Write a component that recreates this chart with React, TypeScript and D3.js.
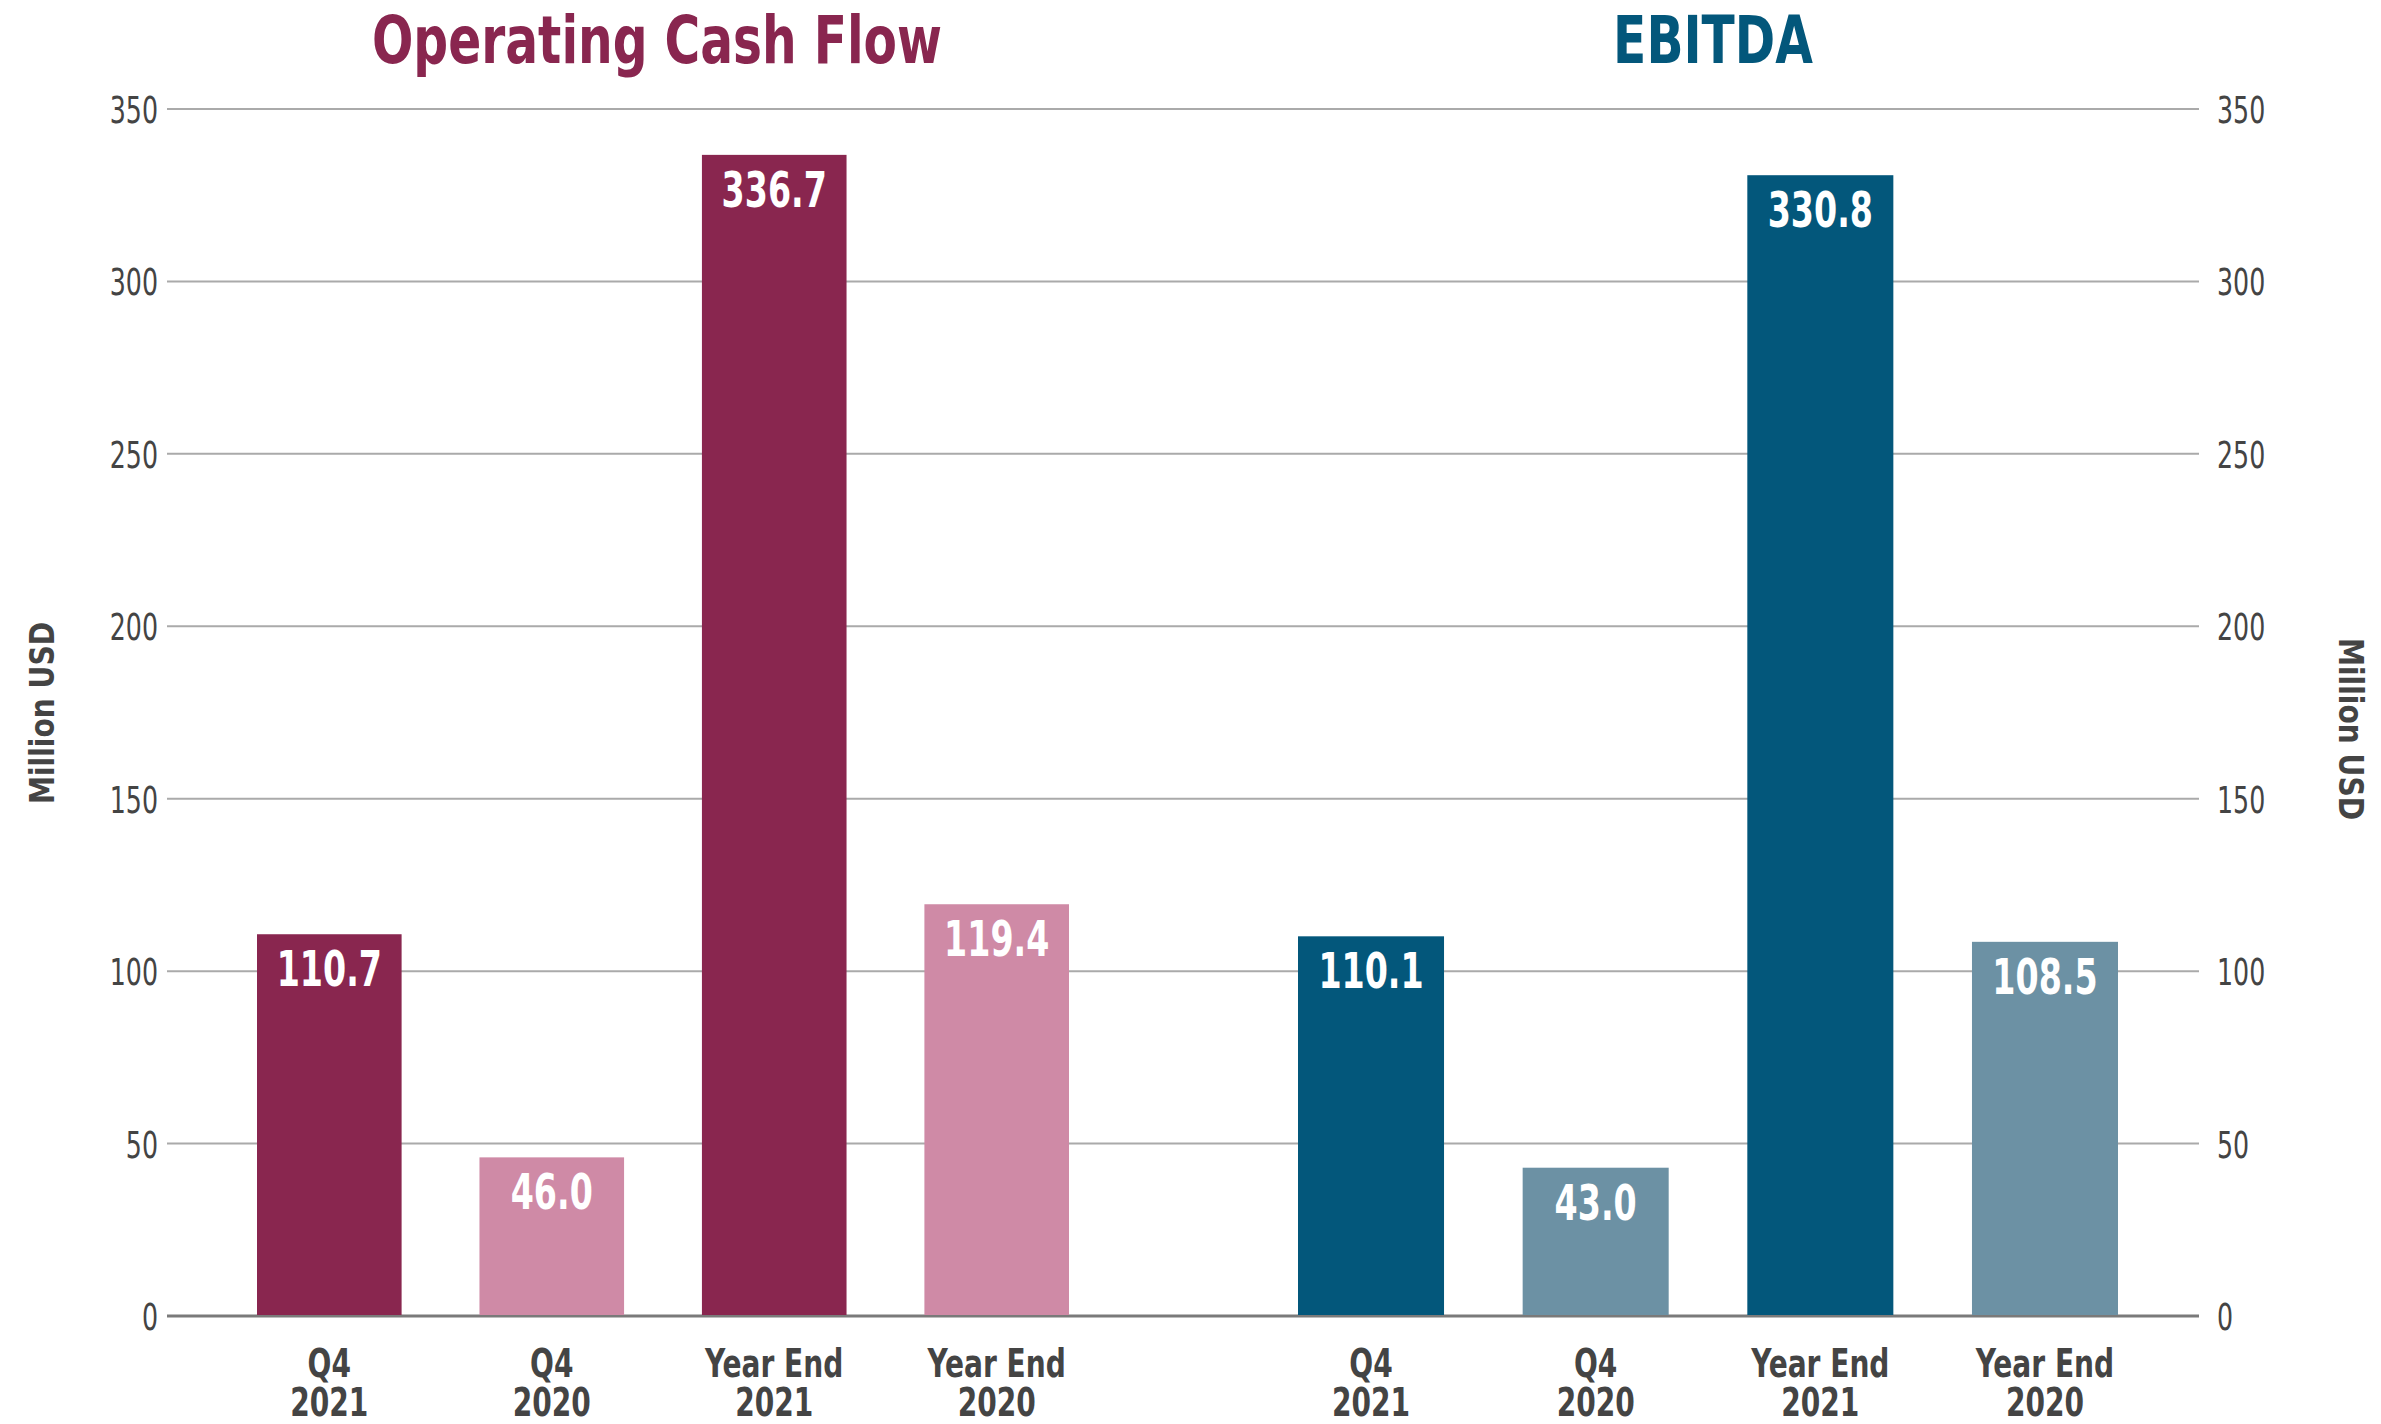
import { useEffect } from 'react';
import * as d3 from 'd3';

const categories = ['Q4|2021', 'Q4|2020', 'Year End|2021', 'Year End|2020'];
const cashFlow = [110.7, 46.0, 336.7, 119.4];
const ebitda = [110.1, 43.0, 330.8, 108.5];
const yTicks = [0, 50, 100, 150, 200, 250, 300, 350];

const WIDTH = 2381;
const HEIGHT = 1424;
const FONT = "'DejaVu Sans Condensed', 'DejaVu Sans', sans-serif";

const panels = [
    {
        title: 'Operating Cash Flow',
        values: cashFlow,
        range: [257, 1069],
        titleX: 657,
        titleColor: '#89264f',
        colours: ['#89264f', '#cf8aa6'],
    },
    {
        title: 'EBITDA',
        values: ebitda,
        range: [1298, 2118],
        titleX: 1713,
        titleColor: '#03577b',
        colours: ['#03577b', '#6c91a4'],
    },
];

// squeezed text: the reference uses a narrow condensed face
function Narrow(props: {
    x: number;
    y: number;
    sx: number;
    rotate?: number;
    anchor?: string;
    size: number;
    bold?: boolean;
    fill: string;
    children: React.ReactNode;
}) {
    const { x, y, sx, rotate = 0, anchor = 'middle', size, bold, fill, children } = props;
    return (
        <g transform={`translate(${x},${y}) rotate(${rotate}) scale(${sx},1)`}>
            <text
                textAnchor={anchor}
                fontFamily={FONT}
                fontWeight={bold ? 'bold' : 'normal'}
                fontSize={size}
                fill={fill}
            >
                {children}
            </text>
        </g>
    );
}

export default function App() {
    useEffect(() => {
        document.body.style.margin = '0';
    }, []);

    const yScale = d3.scaleLinear().domain([0, 350]).range([1316, 109]);
    const gridLeft = 167;
    const gridRight = 2199;

    return (
        <svg width={WIDTH} height={HEIGHT} viewBox={`0 0 ${WIDTH} ${HEIGHT}`} style={{ display: 'block', background: '#fff' }}>
            {/* gridlines */}
            {yTicks.map((t) => (
                <line
                    key={t}
                    x1={gridLeft}
                    x2={gridRight}
                    y1={yScale(t)}
                    y2={yScale(t)}
                    stroke={t === 0 ? '#7a7a7a' : '#aaaaaa'}
                    strokeWidth={t === 0 ? 3 : 2}
                />
            ))}
            {/* tick labels */}
            {yTicks.map((t) => (
                <g key={`l${t}`}>
                    <Narrow x={158} y={yScale(t) + 14} sx={0.74} anchor="end" size={38} fill="#444">
                        {t}
                    </Narrow>
                    <Narrow x={2217} y={yScale(t) + 14} sx={0.74} anchor="start" size={38} fill="#444">
                        {t}
                    </Narrow>
                </g>
            ))}
            {/* axis titles */}
            <Narrow x={54} y={713} rotate={-90} sx={0.92} size={34} bold fill="#444">
                Million USD
            </Narrow>
            <Narrow x={2339} y={729} rotate={90} sx={0.92} size={34} bold fill="#444">
                Million USD
            </Narrow>
            {panels.map((p) => {
                const xScale = d3
                    .scaleBand<string>()
                    .domain(categories)
                    .range(p.range as [number, number])
                    .paddingInner(0.35)
                    .paddingOuter(0);
                return (
                    <g key={p.title}>
                        <Narrow x={p.titleX} y={63} sx={0.82} size={66} bold fill={p.titleColor}>
                            {p.title}
                        </Narrow>
                        {p.values.map((v, i) => {
                            const x = xScale(categories[i]) || 0;
                            const y = yScale(v);
                            const [line1, line2] = categories[i].split('|');
                            const bx = x + xScale.bandwidth() / 2;
                            return (
                                <g key={i}>
                                    <rect
                                        x={x}
                                        y={y}
                                        width={xScale.bandwidth()}
                                        height={yScale(0) - y - 1}
                                        fill={p.colours[i % 2]}
                                    />
                                    <Narrow x={bx} y={y + 52} sx={0.74} size={50} bold fill="#fff">
                                        {v.toFixed(1)}
                                    </Narrow>
                                    <Narrow x={bx} y={1377} sx={0.8} size={39} bold fill="#444">
                                        {line1}
                                    </Narrow>
                                    <Narrow x={bx} y={1416} sx={0.8} size={39} bold fill="#444">
                                        {line2}
                                    </Narrow>
                                </g>
                            );
                        })}
                    </g>
                );
            })}
        </svg>
    );
}
